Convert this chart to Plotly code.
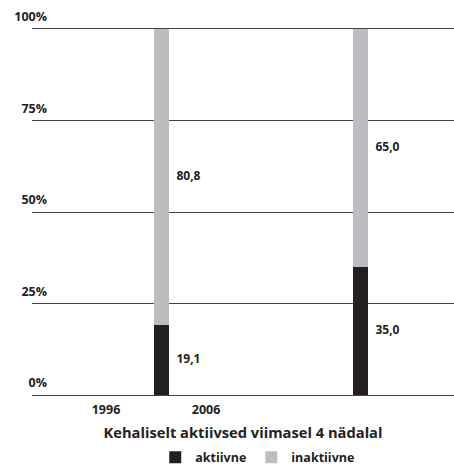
import plotly.graph_objects as go

categories = ["1996", "2006"]
aktiivne = [19.1, 35.0]
inaktiivne = [80.8, 65.0]
y_ticks = [0, 25, 50, 75, 100]
y_ticktext = ["0%", "25%", "50%", "75%", "100%"]
title_text = "Kehaliselt aktiivsed viimasel 4 nädalal"

DARK = "#231f20"
GRAY = "#bcbdc0"
LINE = "#444444"
TXT = "#222222"
FONT = "Open Sans"

bar_pos = [0, 1]
tick_pos = [-0.279, 0.224]

fig = go.Figure()
fig.add_trace(go.Bar(x=bar_pos, y=aktiivne, name="aktiivne", marker_color=DARK,
                     width=0.075, marker_line_width=0, hoverinfo="skip"))
fig.add_trace(go.Bar(x=bar_pos, y=inaktiivne, name="inaktiivne", marker_color=GRAY,
                     width=0.075, marker_line_width=0, hoverinfo="skip"))

fmt = lambda v: f"{v:.1f}".replace(".", ",")
lab_x, lab_y, lab_t = [], [], []
for i, p in enumerate(bar_pos):
    lab_x += [p + 0.075, p + 0.075]
    lab_y += [aktiivne[i] / 2, aktiivne[i] + inaktiivne[i] / 2]
    lab_t += [fmt(aktiivne[i]), fmt(inaktiivne[i])]
fig.add_trace(go.Scatter(x=lab_x, y=lab_y, text=lab_t, mode="text",
                         textposition="middle right", showlegend=False,
                         textfont=dict(family=FONT, size=12, color=TXT, weight="bold"),
                         hoverinfo="skip"))

fig.update_layout(
    barmode="stack",
    width=454, height=466,
    margin=dict(l=32, r=0, t=29, b=71, autoexpand=False),
    plot_bgcolor="white", paper_bgcolor="white",
    font=dict(family=FONT, size=12, color=TXT),
    showlegend=True,
    legend=dict(orientation="h", x=0.292, xanchor="left", xref="paper",
                yref="container", y=0.018, yanchor="middle",
                font=dict(family=FONT, size=12.5, color=TXT, weight="bold"),
                itemwidth=30, traceorder="normal"),
    xaxis=dict(range=[-0.651, 1.470], tickvals=tick_pos, ticktext=categories,
               showgrid=False, zeroline=False, showline=True, mirror=True,
               linecolor=LINE, linewidth=1, ticks="", automargin=False,
               ticklabelstandoff=3,
               tickfont=dict(family=FONT, size=12.5, color=TXT, weight="bold"),
               title=dict(text=title_text, standoff=10,
                          font=dict(family=FONT, size=14.7, color=TXT, weight="bold"))),
    yaxis=dict(range=[0, 100], tickvals=y_ticks, ticktext=y_ticktext,
               showgrid=True, gridcolor=LINE, gridwidth=1, zeroline=False,
               showline=False, ticks="", automargin=False,
               tickfont=dict(family=FONT, size=12.5, color=TXT, weight="bold"),
               ticklabelstandoff=-16, ticklabelshift=-12),
)

fig.write_html("out.html")
